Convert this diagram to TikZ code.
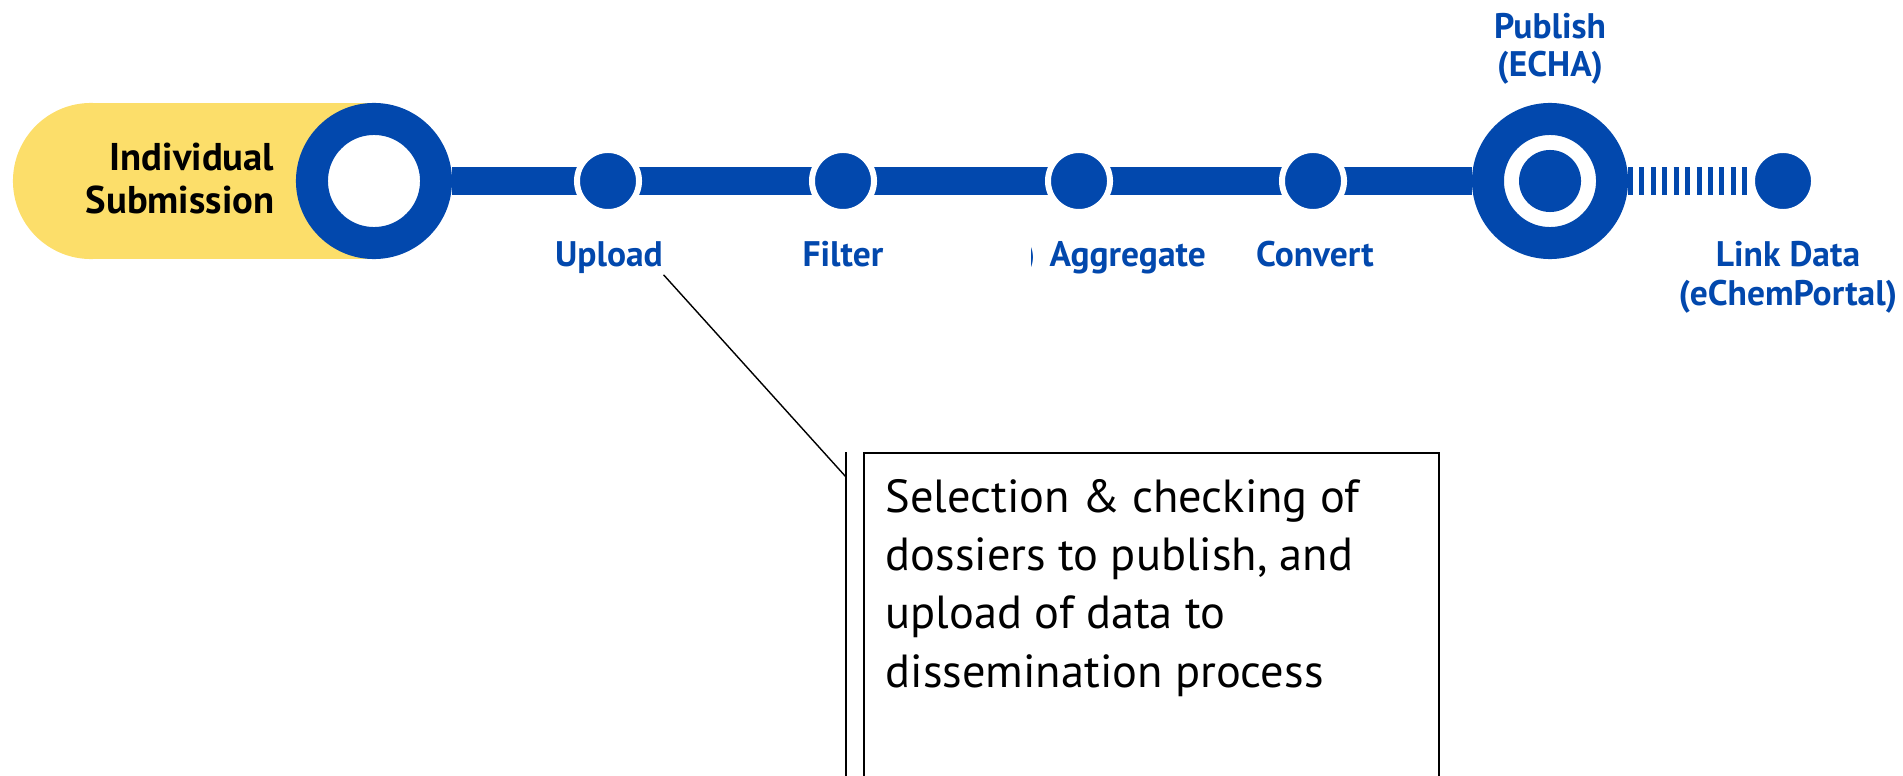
\documentclass[tikz,border=0pt]{standalone}
\usepackage{fontspec}
\setmainfont{PT Sans}
\usetikzlibrary{positioning}
\definecolor{echablue}{RGB}{2,72,173}
\definecolor{subyellow}{RGB}{252,222,106}

\begin{document}
\begin{tikzpicture}[x=0.01cm,y=-0.01cm,
    bigring/.style={circle,draw=echablue,fill=white,line width=0.32cm,minimum size=1.24cm,inner sep=0pt},
    stopdot/.style={circle,draw=white,fill=echablue,line width=0.06cm,minimum size=0.62cm,inner sep=0pt},
    trackline/.style={draw=echablue,line width=0.27cm},
    steplabel/.style={text=echablue,font=\fontsize{10.1}{11}\selectfont\bfseries,inner sep=0pt,align=center},
    subtext/.style={font=\fontsize{11}{12.2}\selectfont\bfseries,inner sep=0pt,align=right},
    notebox/.style={draw,line width=0.45pt,minimum width=5.75cm,minimum height=3.6cm,inner sep=0pt},
    notetext/.style={font=\fontsize{13.2}{16.5}\selectfont,inner sep=0pt,align=left},
    leader/.style={draw,line width=0.4pt}]

    \useasboundingbox (0,0) rectangle (1903,776);
    \clip (0,0) rectangle (1903,776);

    % yellow cap behind the first ring
    \fill[subyellow] (91,181) circle[radius=0.78cm];
    \fill[subyellow] (91,103) rectangle (374,259);
    \node[subtext,anchor=base east] (subtxt) at (275,213) {Individual\\Submission};

    % the two big rings and the track between them
    \node[bigring] (sub) at (374,181) {};
    \node[bigring] (pub) at (1550,181) {};
    \node[circle,fill=echablue,minimum size=0.62cm,inner sep=0pt] (pubdot) at (pub) {};
    \draw[trackline] (sub) -- (pub);

    % 4 stops on the track
    \foreach \n/\x in {upl/608,filt/843,agg/1079,conv/1313} {
      \node[stopdot] (\n) at (\x,181) {};
    }

    % last stop, reached by the hatched track
    \node[stopdot] (link) at (1783,181) {};
    \draw[trackline,dash pattern=on 0.05cm off 0.064cm] (pub) -- (link);

    % stop labels
    \node[steplabel,anchor=base] (upltxt) at (609,267) {Upload};
    \node[steplabel,anchor=base] (filttxt) at (843,267) {Filter};
    \node[steplabel,anchor=base west] (aggtxt) at (1049,267) {Aggregate};
    \begin{scope}
      \clip (1031,230) rectangle (1040,285);
      \node[steplabel,anchor=base east] (aggcut) at (1036,267) {)};
    \end{scope}
    \node[steplabel,anchor=base] (convtxt) at (1315,267) {Convert};
    \node[steplabel,anchor=base] (linktxt) at (1788,305) {Link Data\\(eChemPortal)};
    \node[steplabel,anchor=base] (pubtxt) at (1550,77) {Publish\\(ECHA)};

    % callout for the upload step
    \node[notebox,anchor=north west] (note) at (863,452) {};
    \node[notetext,anchor=base west] (notetxt) at (885,687)
      {Selection \& checking of\\dossiers to publish, and\\upload of data to\\dissemination process};
    \coordinate (bend) at (846,477);
    \coordinate (bartop) at (846,452);
    \coordinate (barbot) at (846,800);
    \draw[leader] (upltxt.south east) -- (bend);
    \draw[leader] (bartop) -- (barbot);

\end{tikzpicture}
\end{document}
